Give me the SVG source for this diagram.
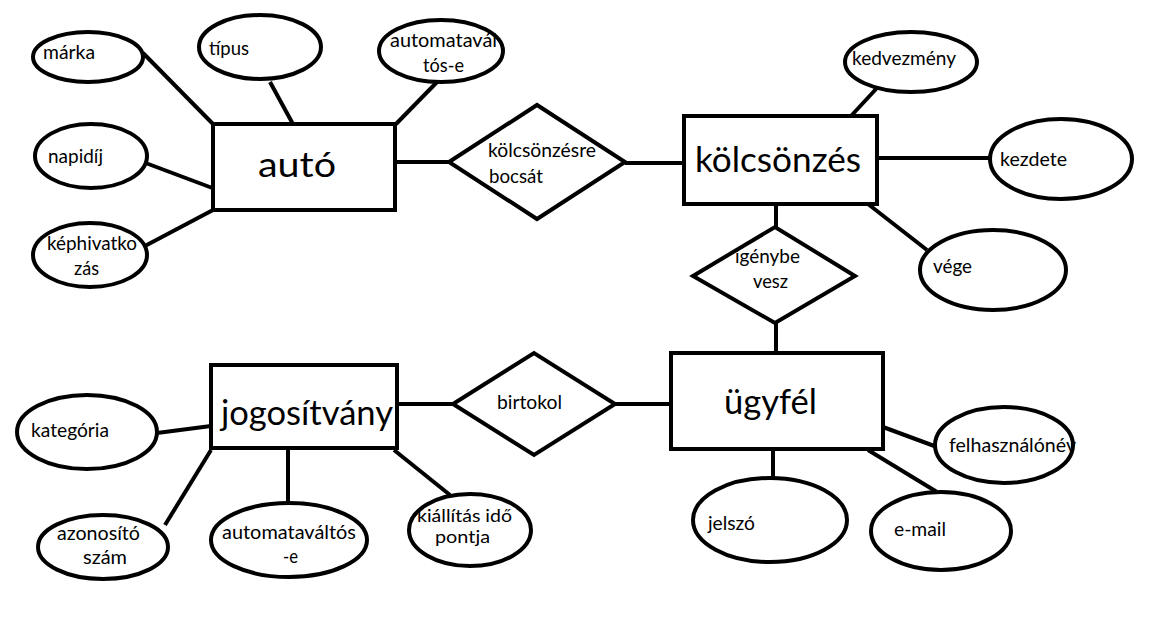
<svg xmlns="http://www.w3.org/2000/svg" width="1159" height="620" viewBox="0 0 1159 620">
<style>
.bg{fill:#fff}
.shape{fill:#fff;stroke:#000;stroke-width:4}
.conn line{stroke:#000;stroke-width:4}
.lbl{font-family:Lato,"Liberation Sans",sans-serif;font-size:20px;fill:#000}
.big{font-size:35px}
.sm{font-size:17px}
</style>
<rect class="bg" x="0" y="0" width="1159" height="620"/>
<g id="connectors" class="conn">
<line x1="143" y1="53" x2="213" y2="124"/>
<line x1="270" y1="82" x2="294" y2="126"/>
<line x1="439" y1="80" x2="396" y2="124"/>
<line x1="143" y1="162" x2="215" y2="189"/>
<line x1="143" y1="247" x2="213" y2="210"/>
<line x1="395" y1="162" x2="449" y2="162"/>
<line x1="625" y1="163" x2="684" y2="163"/>
<line x1="877" y1="88" x2="851" y2="116"/>
<line x1="877" y1="158" x2="990" y2="158"/>
<line x1="868" y1="204" x2="927" y2="250"/>
<line x1="776" y1="204" x2="776" y2="228"/>
<line x1="776" y1="323" x2="776" y2="353"/>
<line x1="615" y1="404" x2="671" y2="404"/>
<line x1="397" y1="404" x2="453" y2="404"/>
<line x1="883" y1="427" x2="937" y2="447"/>
<line x1="773" y1="449" x2="773" y2="478"/>
<line x1="868" y1="450" x2="937" y2="492"/>
<line x1="157" y1="433" x2="211" y2="426"/>
<line x1="165" y1="525" x2="211" y2="450"/>
<line x1="288" y1="448" x2="288" y2="503"/>
<line x1="394" y1="450" x2="450" y2="495"/>
</g>
<g id="auto">
<rect class="shape" x="213" y="124" width="182" height="86"/>
<text class="lbl big" x="258" y="177" textLength="78" lengthAdjust="spacingAndGlyphs">autó</text>
</g>
<g id="kolcsonzes">
<rect class="shape" x="684" y="116" width="193" height="88"/>
<text class="lbl big" x="695" y="172" textLength="166" lengthAdjust="spacingAndGlyphs">kölcsönzés</text>
</g>
<g id="ugyfel">
<rect class="shape" x="671" y="353" width="212" height="96"/>
<text class="lbl big" x="724" y="414" textLength="93" lengthAdjust="spacingAndGlyphs">ügyfél</text>
</g>
<g id="jogositvany">
<rect class="shape" x="211" y="365" width="186" height="83"/>
<text class="lbl big" x="221" y="425" textLength="172" lengthAdjust="spacingAndGlyphs">jogosítvány</text>
</g>
<g id="kolcsonzesre-bocsat">
<polygon class="shape" points="449,162 537,105 625,162 537,219"/>
<text class="lbl" x="488" y="157" textLength="108" lengthAdjust="spacingAndGlyphs">kölcsönzésre</text>
<text class="lbl" x="489" y="183" textLength="54" lengthAdjust="spacingAndGlyphs">bocsát</text>
</g>
<g id="igenybe-vesz">
<polygon class="shape" points="693,276 775,227 855,276 775,323"/>
<text class="lbl" x="735" y="263" textLength="65" lengthAdjust="spacingAndGlyphs">igénybe</text>
<text class="lbl" x="753" y="288" textLength="35" lengthAdjust="spacingAndGlyphs">vesz</text>
</g>
<g id="birtokol">
<polygon class="shape" points="453,404 534,353 615,404 534,455"/>
<text class="lbl" x="497" y="409" textLength="65" lengthAdjust="spacingAndGlyphs">birtokol</text>
</g>
<g id="marka">
<ellipse class="shape" cx="88" cy="57" rx="55" ry="25"/>
<text class="lbl" x="43" y="59" textLength="52" lengthAdjust="spacingAndGlyphs">márka</text>
</g>
<g id="tipus">
<ellipse class="shape" cx="260" cy="47" rx="61" ry="32"/>
<text class="lbl" x="209" y="55" textLength="40" lengthAdjust="spacingAndGlyphs">típus</text>
</g>
<g id="auto-automatavaltos">
<ellipse class="shape" cx="441" cy="51" rx="62" ry="31"/>
<text class="lbl" x="390" y="47" textLength="107" lengthAdjust="spacingAndGlyphs">automatavál</text>
<text class="lbl" x="423" y="72" textLength="41" lengthAdjust="spacingAndGlyphs">tós-e</text>
</g>
<g id="napidij">
<ellipse class="shape" cx="91" cy="156" rx="56" ry="32"/>
<text class="lbl" x="48" y="163" textLength="55" lengthAdjust="spacingAndGlyphs">napidíj</text>
</g>
<g id="kephivatkozas">
<ellipse class="shape" cx="90" cy="255" rx="57" ry="32"/>
<text class="lbl" x="47" y="250" textLength="90" lengthAdjust="spacingAndGlyphs">képhivatko</text>
<text class="lbl" x="74" y="275" textLength="25" lengthAdjust="spacingAndGlyphs">zás</text>
</g>
<g id="kedvezmeny">
<ellipse class="shape" cx="911" cy="62" rx="66" ry="30"/>
<text class="lbl" x="852" y="65" textLength="104" lengthAdjust="spacingAndGlyphs">kedvezmény</text>
</g>
<g id="kezdete">
<ellipse class="shape" cx="1061" cy="159" rx="71" ry="40"/>
<text class="lbl" x="1000" y="166" textLength="67" lengthAdjust="spacingAndGlyphs">kezdete</text>
</g>
<g id="vege">
<ellipse class="shape" cx="993" cy="270" rx="73" ry="40"/>
<text class="lbl" x="933" y="273" textLength="39" lengthAdjust="spacingAndGlyphs">vége</text>
</g>
<g id="felhasznalonev">
<ellipse class="shape" cx="1004" cy="445" rx="69" ry="38"/>
<text class="lbl" x="949" y="452" textLength="127" lengthAdjust="spacingAndGlyphs">felhasználónév</text>
</g>
<g id="jelszo">
<ellipse class="shape" cx="770" cy="520" rx="77" ry="42"/>
<text class="lbl" x="708" y="530" textLength="47" lengthAdjust="spacingAndGlyphs">jelszó</text>
</g>
<g id="email">
<ellipse class="shape" cx="941" cy="531" rx="70" ry="39"/>
<text class="lbl" x="894" y="536" textLength="52" lengthAdjust="spacingAndGlyphs">e-mail</text>
</g>
<g id="kategoria">
<ellipse class="shape" cx="87" cy="432" rx="70" ry="37"/>
<text class="lbl" x="31" y="437" textLength="78" lengthAdjust="spacingAndGlyphs">kategória</text>
</g>
<g id="azonosito-szam">
<ellipse class="shape" cx="103" cy="547" rx="65" ry="32"/>
<text class="lbl" x="57" y="540" textLength="83" lengthAdjust="spacingAndGlyphs">azonosító</text>
<text class="lbl" x="83" y="564" textLength="44" lengthAdjust="spacingAndGlyphs">szám</text>
</g>
<g id="jogositvany-automatavaltos">
<ellipse class="shape" cx="289" cy="540" rx="78" ry="37"/>
<text class="lbl" x="222" y="539" textLength="134" lengthAdjust="spacingAndGlyphs">automataváltós</text>
<text class="lbl" x="283" y="563" textLength="15" lengthAdjust="spacingAndGlyphs">-e</text>
</g>
<g id="kiallitas-ido-pontja">
<ellipse class="shape" cx="470" cy="530" rx="61" ry="36"/>
<text class="lbl sm" x="417" y="522" textLength="95" lengthAdjust="spacingAndGlyphs">kiállítás idő</text>
<text class="lbl sm" x="435" y="543" textLength="55" lengthAdjust="spacingAndGlyphs">pontja</text>
</g>
</svg>
